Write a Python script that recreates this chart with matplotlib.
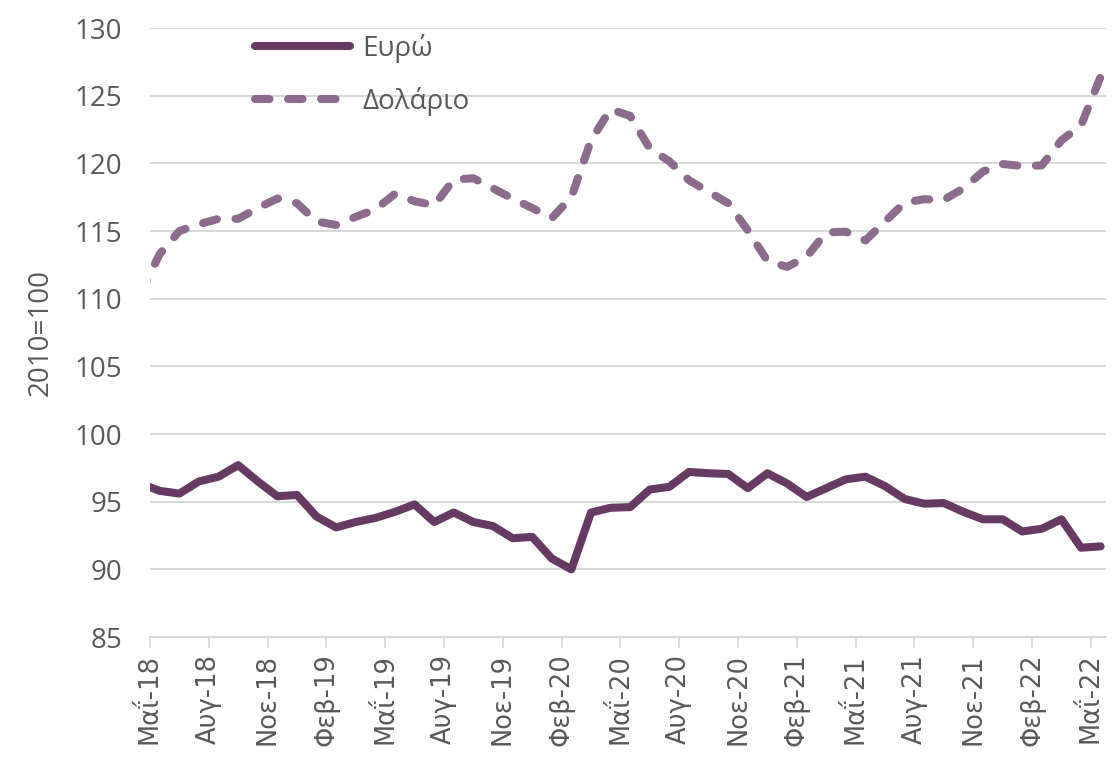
import numpy as np
import matplotlib.pyplot as plt

# Δείκτης ονομαστικής συναλλαγματικής ισοτιμίας (2010=100), μηνιαία Απρ-18 .. Μαΐ-22
euro = [96.35, 95.8, 95.6, 96.5, 96.85, 97.7, 96.5, 95.4, 95.5, 93.9,
        93.1, 93.5, 93.8, 94.25, 94.8, 93.5, 94.2, 93.5, 93.2, 92.3,
        92.4, 90.8, 90.0, 94.2, 94.55, 94.6, 95.9, 96.1, 97.2, 97.1,
        97.05, 96.0, 97.1, 96.35, 95.35, 96.0, 96.65, 96.85, 96.15, 95.2,
        94.85, 94.9, 94.25, 93.7, 93.7, 92.8, 93.0, 93.7, 91.6, 91.7]
dollar = [110.4, 113.3, 115.0, 115.5, 115.9, 115.9, 116.7, 117.4, 117.05, 115.7,
          115.45, 116.05, 116.6, 117.75, 117.2, 116.9, 118.8, 118.9, 118.15, 117.4,
          116.7, 115.95, 117.5, 121.7, 124.0, 123.5, 121.1, 120.15, 118.75, 117.9,
          117.05, 115.05, 112.8, 112.35, 113.1, 114.9, 114.95, 114.3, 115.7, 117.1,
          117.35, 117.3, 118.15, 119.4, 119.95, 119.8, 119.85, 121.7, 122.8, 126.4]
tick_labels = ['Μαΐ-18', 'Αυγ-18', 'Νοε-18', 'Φεβ-19', 'Μαΐ-19', 'Αυγ-19',
               'Νοε-19', 'Φεβ-20', 'Μαΐ-20', 'Αυγ-20', 'Νοε-20', 'Φεβ-21',
               'Μαΐ-21', 'Αυγ-21', 'Νοε-21', 'Φεβ-22', 'Μαΐ-22']

plt.rcParams['font.family'] = ['Open Sans', 'DejaVu Sans']
text_col = '#595959'
grid_col = '#d9d9d9'

# months counted from May-18; points sit mid-month
x = np.arange(len(euro)) - 0.5

fig = plt.figure(figsize=(11.15, 7.59), dpi=100)
ax = fig.add_axes([0.1345, 0.1607, 0.857, 0.8024])

ax.plot(x, euro, color='#673a63', lw=5.8, solid_capstyle='round',
        solid_joinstyle='round', label='Ευρώ')
ax.plot(x, dollar, color='#8c6b8c', lw=5.8, dashes=(1.8, 2.3),
        dash_capstyle='round', dash_joinstyle='round', label='Δολάριο')

ax.set_xlim(0, 48.75)
ax.set_ylim(85, 130)
ax.set_yticks(np.arange(85, 131, 5))
ax.set_xticks(np.arange(0, 49, 3))
ax.set_xticklabels(tick_labels, rotation=90, fontsize=18.5, color=text_col,
                   family='DejaVu Sans')
ax.tick_params(axis='y', length=0, labelsize=20, labelcolor=text_col, pad=20)
ax.tick_params(axis='x', length=8, width=1.2, color=grid_col, pad=4)
ax.grid(axis='y', color=grid_col, lw=1.5)
ax.set_axisbelow(True)
for s in ['left', 'right', 'top']:
    ax.spines[s].set_visible(False)
ax.spines['bottom'].set_color(grid_col)
ax.spines['bottom'].set_linewidth(1.5)

ax.set_ylabel('2010=100', fontsize=20, color=text_col, labelpad=14)

leg = ax.legend(loc='upper left', bbox_to_anchor=(0.11, 0.99), frameon=False,
                fontsize=20, handlelength=3.4, labelspacing=0.85,
                handletextpad=0.45, borderpad=0, borderaxespad=0)
for t in leg.get_texts():
    t.set_color(text_col)

fig.savefig('out.png', dpi=100)
